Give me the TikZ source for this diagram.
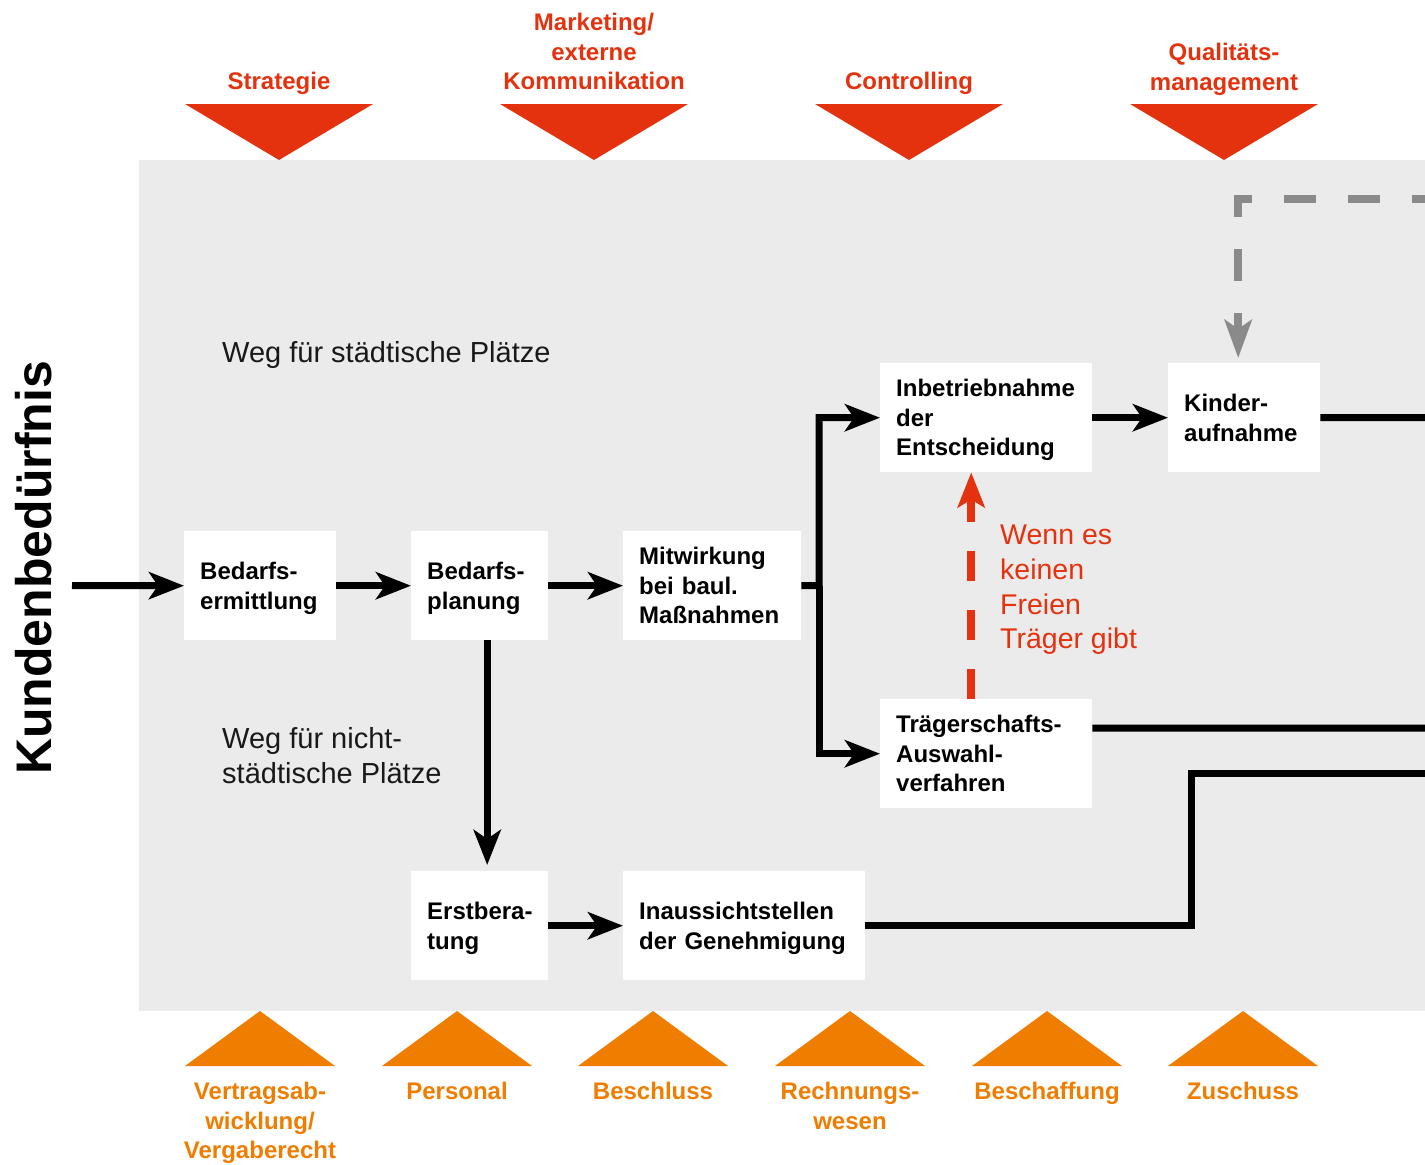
\documentclass[tikz,border=0pt]{standalone}
\usepackage{fontspec}
\setmainfont{Liberation Sans}
\usetikzlibrary{arrows.meta,calc}
\definecolor{myred}{HTML}{E5320E}
\definecolor{myorange}{HTML}{EF7D00}
\definecolor{bggray}{HTML}{EBEBEB}
\definecolor{dashgray}{HTML}{8A8A8A}
\newcommand\nodesc[1]{\raisebox{0pt}[\height][0pt]{#1}}
\begin{document}
\begin{tikzpicture}[x=1pt,y=-1pt,
  box/.style={fill=white, inner xsep=16pt, inner ysep=0pt, minimum height=109pt,
    anchor=north west, align=left, text=black,
    font=\fontsize{24}{29.5}\selectfont\bfseries,
    execute at begin node={\hyphenpenalty=10000\exhyphenpenalty=10000}},
  toplabel/.style={anchor=north, inner sep=0pt, align=center, text=myred,
    font=\fontsize{24}{29.5}\selectfont\bfseries},
  botlabel/.style={anchor=north, inner sep=0pt, align=center, text=myorange,
    font=\fontsize{24}{29.5}\selectfont\bfseries},
  waylabel/.style={anchor=north west, inner sep=0pt, align=left, text=black!90,
    font=\fontsize{29}{35}\selectfont},
  line/.style={line width=7pt, black},
  arr/.style={line, -{Stealth[length=35pt,width=27pt,inset=9pt]}},
]
\useasboundingbox (0,0) rectangle (1425,1165);
\fill[white] (0,0) rectangle (1425,1165);
\fill[bggray] (139,160) rectangle (1430,1011);

% top triangles
\foreach \cx in {279,594,909,1224}{
  \fill[myred] (\cx-94,104) -- (\cx+94,104) -- (\cx,160) -- cycle;
}
\node[toplabel] (tStrat) at (279,72) {Strategie};
\node[toplabel] (tMark) at (594,13) {Marketing/\\externe\\Kommunikation};
\node[toplabel] (tContr) at (909,72) {Controlling};
\node[toplabel] (tQual) at (1224,43) {Qualitäts-\\management};

% bottom triangles
\foreach \cx in {260,457,653,850,1047,1243}{
  \fill[myorange] (\cx-75,1066) -- (\cx+75,1066) -- (\cx,1011) -- cycle;
}
\node[botlabel] (bVert) at (260,1082) {Vertragsab-\\wicklung/\\Vergaberecht};
\node[botlabel] (bPers) at (457,1082) {Personal};
\node[botlabel] (bBesch) at (653,1082) {Beschluss};
\node[botlabel] (bRech) at (850,1082) {Rechnungs-\\wesen};
\node[botlabel] (bBeschaff) at (1047,1082) {Beschaffung};
\node[botlabel] (bZus) at (1243,1082) {Zuschuss};

% side title
\node[rotate=90, anchor=base, inner sep=0pt, font=\fontsize{50}{60}\selectfont\bfseries] (kund) at (51,568) {Kundenbedürfnis};

% path labels
\node[waylabel] (weg1) at (222,341) {Weg für städtische Plätze};
\node[waylabel] (weg2) at (222,727) {Weg für nicht-\\städtische Plätze};
\node[anchor=north west, inner sep=0pt, align=left, text=myred,
  font=\fontsize{28.5}{34.7}\selectfont] (wenn) at (1000,525) {Wenn es\\keinen\\Freien\\Träger gibt};

% boxes
\node[box, minimum width=152pt, text width=120pt] (bedE) at (184,531) {Bedarfs-\\\nodesc{ermittlung}};
\node[box, minimum width=137pt, text width=105pt] (bedP) at (411,531) {Bedarfs-\\\nodesc{planung}};
\node[box, minimum width=178pt, text width=146pt] (mitw) at (623,531) {Mitwirkung\\bei baul.\\Maßnahmen};
\node[box, minimum width=212pt, text width=180pt] (inb) at (880,363) {Inbetriebnahme\\der\\\nodesc{Entscheidung}};
\node[box, minimum width=152pt, text width=120pt] (kind) at (1168,363) {Kinder-\\aufnahme};
\node[box, minimum width=212pt, text width=180pt] (traeg) at (880,699) {Trägerschafts-\\Auswahl-\\verfahren};
\node[box, minimum width=137pt, text width=105pt] (erst) at (411,871) {Erstbera-\\\nodesc{tung}};
\node[box, minimum width=242pt, text width=210pt] (inaus) at (623,871) {Inaussichtstellen\\\nodesc{der Genehmigung}};

% coordinates
\coordinate (start) at (72,585.5);
\coordinate (split) at (819,585.5);
\coordinate (edgeK) at (1430,417.5);
\coordinate (edgeT) at (1430,728);
\coordinate (bend) at (1191,773);
\coordinate (edgeI) at (1430,773);
\coordinate (gstart) at (1425,199);

% connectors
\draw[arr] (start) -- (bedE.west);
\draw[arr] (bedE.east) -- (bedP.west);
\draw[arr] (bedP.east) -- (mitw.west);
\draw[arr] (mitw.east) -- (split) |- (inb.west);
\draw[arr] (split) |- (traeg.west);
\draw[arr] (inb.east) -- (kind.west);
\draw[line] (kind.east) -- (edgeK);
\draw[line] ([yshift=25.5pt]traeg.east) -- (edgeT);
\draw[line] (inaus.east) -| (bend) -- (edgeI);
\draw[arr, shorten >=6pt] ([xshift=7.5pt]bedP.south) -- ([xshift=7.5pt]erst.north);
\draw[arr] (erst.east) -- (inaus.west);

% red dashed
\draw[myred, line width=8pt, dash pattern=on 30pt off 29pt,
  -{Stealth[length=35pt,width=27pt,inset=8pt]}]
  ([xshift=-15pt]traeg.north) -- ([xshift=-15pt]inb.south);

% gray dashed
\draw[dashgray, line width=8pt, dash pattern=on 32pt off 32pt, dash phase=19pt,
  -{Stealth[length=38pt,width=27pt,inset=9pt]}, shorten >=5pt]
  (gstart) -| ([xshift=-6pt]kind.north);
\end{tikzpicture}
\end{document}
